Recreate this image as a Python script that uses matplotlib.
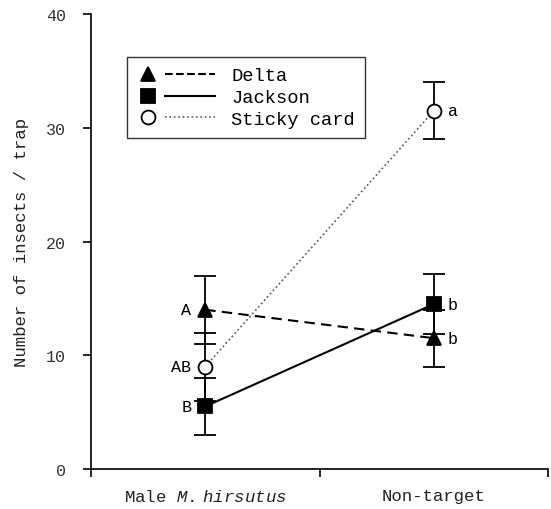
import matplotlib
matplotlib.use("Agg")
import matplotlib.pyplot as plt
from matplotlib.legend_handler import HandlerBase
from matplotlib.lines import Line2D

categories = ["Male M. hirsutus", "Non-target"]
cat_labels = ["Male $\\it{M.\\ hirsutus}$", "Non-target"]
series = ["Delta", "Jackson", "Sticky card"]
delta_mean = [14.0, 11.5]
delta_err = [3.0, 2.5]
jackson_mean = [5.5, 14.5]
jackson_err = [2.5, 2.6]
sticky_mean = [9.0, 31.5]
sticky_err = [3.0, 2.5]
delta_letters = ["A", "b"]
jackson_letters = ["B", "b"]
sticky_letters = ["AB", "a"]
yticks = [0, 10, 20, 30, 40]

plt.rcParams['font.family'] = ['Liberation Mono', 'DejaVu Sans Mono']
plt.rcParams['mathtext.fontset'] = 'custom'
plt.rcParams['mathtext.it'] = 'Liberation Mono:italic'
plt.rcParams['mathtext.rm'] = 'Liberation Mono'


class MarkerThenLine(HandlerBase):
    def create_artists(self, legend, orig_handle, xdescent, ydescent, width, height,
                       fontsize, trans):
        mk, ln = orig_handle
        y = height / 2 - ydescent
        x0 = -xdescent
        m = Line2D([x0 + 0.14 * width], [y], linestyle='none', marker=mk.get_marker(),
                   markersize=mk.get_markersize(), markerfacecolor=mk.get_markerfacecolor(),
                   markeredgecolor=mk.get_markeredgecolor(),
                   markeredgewidth=mk.get_markeredgewidth(), transform=trans)
        l = Line2D([x0 + 0.36 * width, x0 + width], [y, y], linestyle=ln.get_linestyle(),
                   color=ln.get_color(), linewidth=ln.get_linewidth(), transform=trans)
        return [m, l]


fig = plt.figure(figsize=(5.51, 5.10), dpi=100)
ax = fig.add_axes([0.165, 0.0784, 0.83, 0.8922])

xpos = [0.5, 1.5]
styles = [
    (delta_mean, delta_err, '^', 'black', (0, (5, 3)), 1.5, 'black'),
    (jackson_mean, jackson_err, 's', 'black', '-', 1.5, 'black'),
    (sticky_mean, sticky_err, 'o', 'white', ':', 1.2, '#555555'),
]
handles = []
for (m, e, mk, fc, ls, lw, lc), name in zip(styles, series):
    ax.errorbar(xpos, m, yerr=e, fmt='none', ecolor='black', elinewidth=1.3,
                capsize=8, capthick=1.3, zorder=2)
    ax.plot(xpos, m, linestyle=ls, color=lc, linewidth=lw, zorder=3)
    ax.plot(xpos, m, linestyle='none', marker=mk, markersize=10,
            markerfacecolor=fc, markeredgecolor='black', markeredgewidth=1.3, zorder=4)
    h_mk = Line2D([], [], linestyle='none', marker=mk, markersize=10,
                  markerfacecolor=fc, markeredgecolor='black', markeredgewidth=1.3)
    h_ln = Line2D([], [], linestyle=ls, color=lc, linewidth=lw)
    handles.append((h_mk, h_ln))

for m, letters in [(delta_mean, delta_letters), (jackson_mean, jackson_letters),
                   (sticky_mean, sticky_letters)]:
    ax.annotate(letters[0], (xpos[0], m[0]), xytext=(-10, 0), textcoords='offset points',
                ha='right', va='center', fontsize=12)
    ax.annotate(letters[1], (xpos[1], m[1]), xytext=(10, 0), textcoords='offset points',
                ha='left', va='center', fontsize=12)

ax.set_xlim(0, 2)
ax.set_ylim(0, 40)
ax.set_yticks(yticks)
ax.set_yticklabels([str(t) for t in yticks], fontsize=12, color='#333333')
ax.set_xticks([0, 1, 2])
ax.set_xticklabels([])
ax.set_xticks(xpos, minor=True)
ax.set_xticklabels(cat_labels, minor=True, fontsize=12.5, color='#222222')
ax.tick_params(axis='x', which='minor', length=0, pad=14)
ax.tick_params(axis='x', which='major', direction='out', length=6, width=1.2)
ax.tick_params(axis='y', direction='out', length=6, width=1.2, pad=12)
ax.set_ylabel("Number of insects / trap", fontsize=12.5, color='#222222', labelpad=12)
for s in ['top', 'right']:
    ax.spines[s].set_visible(False)
for s in ['left', 'bottom']:
    ax.spines[s].set_linewidth(1.2)

leg = ax.legend(handles, series, handler_map={tuple: MarkerThenLine()},
                loc='upper left', bbox_to_anchor=(0.079, 0.9055), borderaxespad=0,
                fontsize=13.5, handlelength=4.15, handletextpad=0.85, labelspacing=0.25,
                frameon=True, fancybox=False, edgecolor='black', borderpad=0.55)
leg.get_frame().set_linewidth(1.0)

fig.savefig("out.png", dpi=100)
